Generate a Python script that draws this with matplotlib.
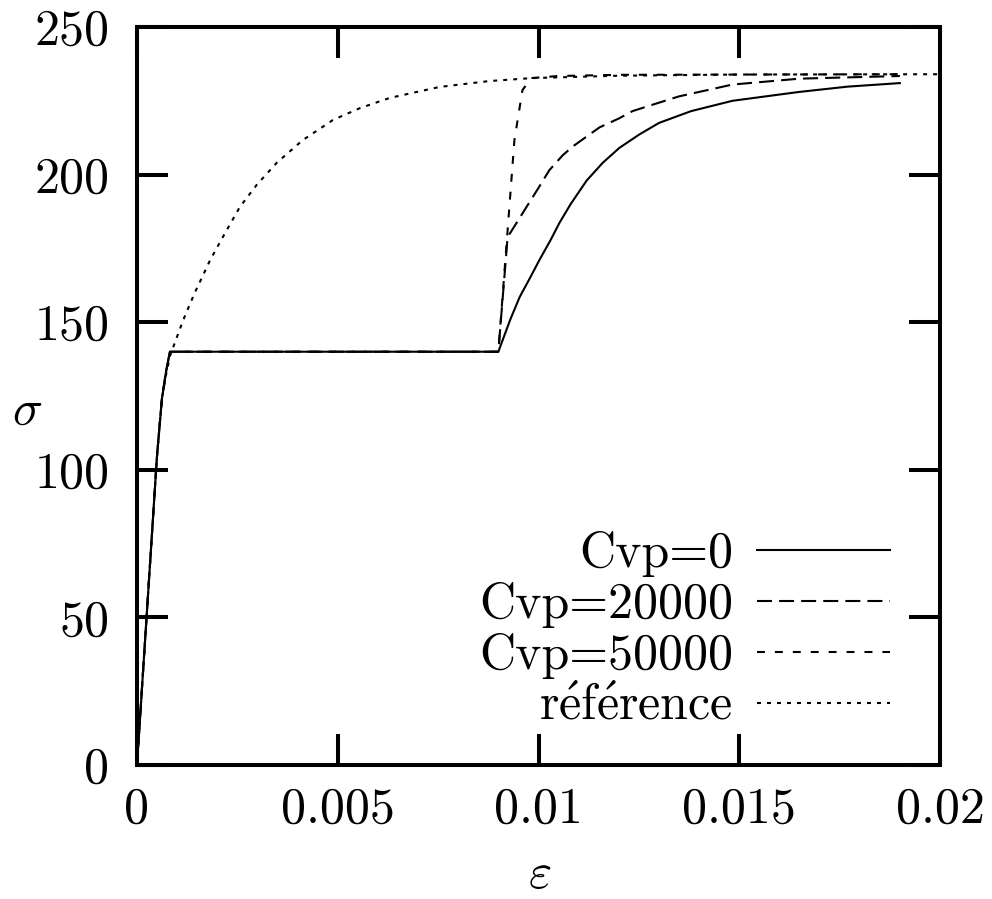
import matplotlib
matplotlib.use("Agg")
import matplotlib.pyplot as plt

plt.rcParams['mathtext.fontset'] = 'cm'
plt.rcParams['font.family'] = ['cmr10', 'DejaVu Serif']
plt.rcParams['axes.formatter.use_mathtext'] = True
plt.rcParams['axes.unicode_minus'] = False

# ---- data ----
eps_cvp0 = [0, 0.0005, 0.00062, 0.00072, 0.00082, 0.009, 0.0093, 0.00953, 0.0098, 0.01002,
            0.0103, 0.01052, 0.0108, 0.0112, 0.0116, 0.01201, 0.0125, 0.013, 0.0138,
            0.01483, 0.01649, 0.0177, 0.019]
sig_cvp0 = [0, 105, 124, 133, 140, 140, 151, 158.5, 165.3, 171,
            177.8, 183.6, 190, 198, 204, 209, 213.5, 217.5, 221.5,
            225, 228, 229.8, 231]

eps_cvp20000 = [0, 0.0005, 0.00062, 0.00072, 0.00082, 0.009, 0.00923, 0.0097, 0.01, 0.01027,
                0.0106, 0.01085, 0.01152, 0.012, 0.01234, 0.0128, 0.0135, 0.01483, 0.0165, 0.019]
sig_cvp20000 = [0, 105, 124, 133, 140, 140, 178.8, 189, 195.5, 201.5,
                206.5, 209.5, 216, 219, 221.5, 223.5, 226.5, 230.5, 232.5, 233.4]

eps_cvp50000 = [0, 0.0005, 0.00062, 0.00072, 0.00082, 0.009, 0.00923, 0.0094, 0.0096, 0.00982,
                0.0105, 0.012, 0.019]
sig_cvp50000 = [0, 105, 124, 133, 140, 140, 181, 211.7, 228.6, 232.7,
                233.4, 233.8, 234]

eps_ref = [0, 0.0005, 0.00062, 0.00072, 0.00082, 0.00115, 0.00144, 0.00182, 0.00214, 0.00256,
           0.00298, 0.00348, 0.00413, 0.00488, 0.00555, 0.0063, 0.00754, 0.00878,
           0.00985, 0.012, 0.015, 0.02]
sig_ref = [0, 105, 124, 132, 138.5, 150.7, 160, 171, 178.9, 189,
           196.5, 204, 211.7, 218.5, 222.5, 226, 229.7, 231.7,
           232.7, 233.5, 233.9, 234]

labels = ['Cvp=0', 'Cvp=20000', 'Cvp=50000', r'$\mathrm{r\acute{e}f\acute{e}rence}$']

xticks = [0, 0.005, 0.01, 0.015, 0.02]
xticklabels = ['0', '0.005', '0.01', '0.015', '0.02']
yticks = [0, 50, 100, 150, 200, 250]
yticklabels = ['0', '50', '100', '150', '200', '250']

# ---- figure ----
W, H = 992, 899
fig = plt.figure(figsize=(W / 100, H / 100), dpi=100)
ax = fig.add_axes([137 / W, 1 - 765 / H, (940 - 137) / W, (765 - 27) / H])

lw = 1.5
ax.plot(eps_cvp0, sig_cvp0, color='black', lw=lw, linestyle='-', label=labels[0])
ax.plot(eps_cvp20000, sig_cvp20000, color='black', lw=lw, linestyle=(0, (7.2, 3.4)), label=labels[1])
ax.plot(eps_cvp50000, sig_cvp50000, color='black', lw=lw, linestyle=(0, (3.8, 4.8)), label=labels[2])
ax.plot(eps_ref, sig_ref, color='black', lw=lw, linestyle=(0, (1.9, 2.9)), label=labels[3])

ax.set_xlim(0, 0.02)
ax.set_ylim(0, 250)
ax.set_xticks(xticks)
ax.set_xticklabels(xticklabels)
ax.set_yticks(yticks)
ax.set_yticklabels(yticklabels)

fs = 36
for s in ax.spines.values():
    s.set_linewidth(2.9)
ax.tick_params(axis='both', which='major', direction='in', length=22, width=2.9,
               top=True, right=True, labelsize=fs)
ax.tick_params(axis='x', pad=16)
ax.tick_params(axis='y', pad=20)

fig.text(27 / W, 1 - 412 / H, r'$\sigma$', fontsize=fs, ha='center', va='center')
fig.text(540 / W, 1 - 898 / H, r'$\varepsilon$', fontsize=fs, ha='center', va='bottom')

leg = ax.legend(loc='lower right', bbox_to_anchor=((890 - 137) / (940 - 137), (765 - 730) / (765 - 27)),
                frameon=False, markerfirst=False, fontsize=fs, handlelength=133 / 50,
                handletextpad=0.48, labelspacing=0.1, borderpad=0, borderaxespad=0)

fig.savefig('out.png', dpi=100)
